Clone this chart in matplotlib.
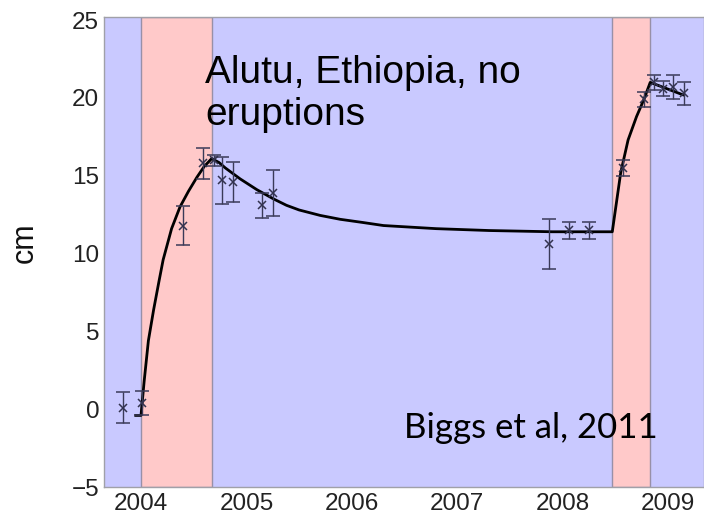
import matplotlib
matplotlib.use("Agg")
import matplotlib.pyplot as plt

# Observations (decimal year, cm, error)
obs_t = [2003.83, 2004.01, 2004.40, 2004.59, 2004.69, 2004.77, 2004.87, 2005.15, 2005.25,
         2007.87, 2008.06, 2008.25, 2008.57, 2008.77, 2008.87, 2008.95, 2009.05, 2009.15]
obs_y = [0.1, 0.4, 11.8, 15.8, 16.0, 14.7, 14.6, 13.1, 13.9,
         10.6, 11.5, 11.5, 15.5, 19.9, 21.0, 20.6, 20.7, 20.3]
obs_err = [1.0, 0.8, 1.25, 1.0, 0.35, 1.5, 1.3, 0.8, 1.5,
           1.6, 0.55, 0.55, 0.5, 0.5, 0.5, 0.5, 0.8, 0.75]

# Model curve
model_t = [2003.95, 2004.0, 2004.03, 2004.07, 2004.12, 2004.17, 2004.21, 2004.29, 2004.37, 2004.45,
           2004.53, 2004.60, 2004.67, 2004.74, 2004.80, 2004.87, 2004.94, 2005.02, 2005.10, 2005.18,
           2005.26, 2005.38, 2005.50, 2005.70, 2005.89, 2006.10, 2006.30, 2006.55, 2006.80, 2007.30,
           2007.90, 2008.47, 2008.51, 2008.55, 2008.62, 2008.70, 2008.77, 2008.83, 2009.14]
model_y = [-0.4, -0.4, 1.8, 4.4, 6.4, 8.2, 9.6, 11.6, 13.0, 14.0,
           14.9, 15.6, 16.1, 15.85, 15.5, 15.15, 14.8, 14.45, 14.1, 13.8,
           13.5, 13.1, 12.8, 12.45, 12.2, 12.0, 11.8, 11.7, 11.6, 11.48,
           11.4, 11.4, 13.3, 15.2, 17.3, 18.8, 19.9, 21.0, 20.2]

# Inflation periods (red bands)
band_start = [2004.0, 2008.47]
band_end = [2004.67, 2008.83]

x_ticks = [2004, 2005, 2006, 2007, 2008, 2009]
y_ticks = [-5, 0, 5, 10, 15, 20, 25]

fig = plt.figure(figsize=(7.04, 5.18), dpi=100)
ax = fig.add_axes([104/704, 1-487/518, 1-104/704, (487-17)/518])
ax.set_facecolor('#c9c9ff')

for s, e in zip(band_start, band_end):
    ax.axvspan(s, e, facecolor='#ffc9c9', edgecolor='#9890a8', linewidth=1.0, zorder=1)

ax.plot(model_t, model_y, color='black', linewidth=2.0, zorder=3,
        solid_joinstyle='round')
ax.errorbar(obs_t, obs_y, yerr=obs_err, fmt='x', color='#33334f', ecolor='#3a3a58',
            elinewidth=1.0, capsize=5, capthick=1.0, markersize=6, markeredgewidth=1.1, zorder=4)

ax.set_xlim(2003.649, 2009.34)
ax.set_ylim(-5, 25.2)
ax.set_xticks(x_ticks)
ax.set_yticks(y_ticks)
ax.tick_params(length=0, labelsize=17.5, labelcolor='#222222')
ax.tick_params(axis='y', pad=3.5)
ax.tick_params(axis='x', pad=4.5)
for lab in ax.get_xticklabels() + ax.get_yticklabels():
    lab.set_family('Liberation Sans')

for side in ['top', 'bottom', 'left', 'right']:
    ax.spines[side].set_color('#a0a0a8')
    ax.spines[side].set_linewidth(1.0)

fig.text(25/704, 1-243/518, 'cm', rotation=90, ha='center', va='center',
         fontsize=22, family='Liberation Sans', color='#111111')

ax.text(2004.61, 22.75, 'Alutu, Ethiopia, no\neruptions', fontsize=28, family='Liberation Sans',
        ha='left', va='top', linespacing=1.2, color='black', zorder=5)
ax.text(2006.49, -1.85, 'Biggs et al, 2011', fontsize=25, family='Lato',
        ha='left', va='baseline', color='black', zorder=5)

fig.savefig('out.png', dpi=100)
